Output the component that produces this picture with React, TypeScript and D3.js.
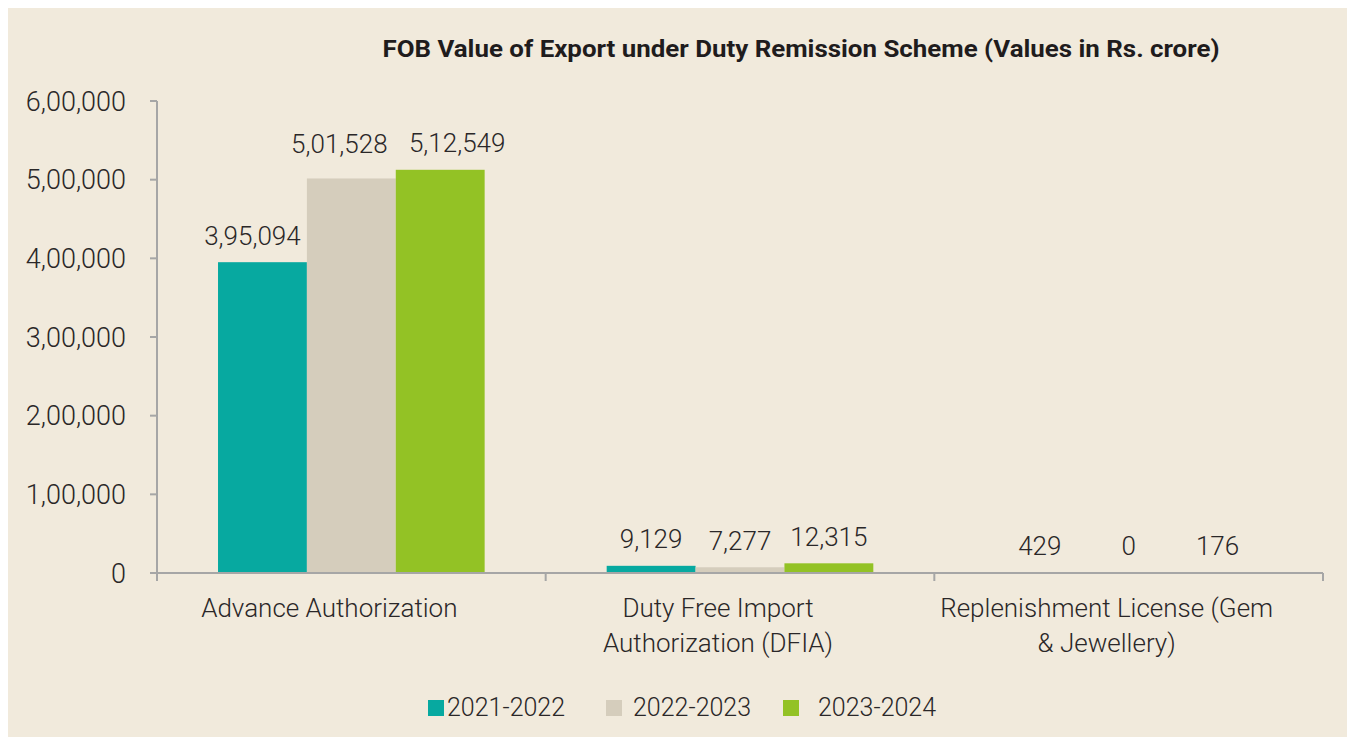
import React from 'react';
import * as d3 from 'd3';

const categories: string[][] = [
    ['Advance Authorization'],
    ['Duty Free Import', 'Authorization (DFIA)'],
    ['Replenishment License (Gem', '& Jewellery)'],
];
const seriesNames = ['2021-2022', '2022-2023', '2023-2024'];
const values2021 = [395094, 9129, 429];
const values2022 = [501528, 7277, 0];
const values2023 = [512549, 12315, 176];
const yTicks = [0, 100000, 200000, 300000, 400000, 500000, 600000];
const colors = ['#07a9a0', '#d5cdbc', '#93c225'];

const W = 1355;
const H = 745;
const margin = { left: 157, right: 32, top: 101, bottom: 172 };
const font = 'Roboto, sans-serif';
const textColor = '#2a2728';
const axisColor = '#a6a6a6';

// label nudges so the tall bars' labels don't collide (as in the source chart)
const nudge = (ci: number, si: number): [number, number] => {
    if (ci !== 0) return [0, 0];
    return ([[-10, 0], [-12, -8], [17, 0]] as [number, number][])[si];
};

const indianFormat = (v: number) => {
    const s = Math.round(v).toString();
    if (s.length <= 3) return s;
    const last3 = s.slice(-3);
    const rest = s.slice(0, -3).replace(/\B(?=(\d{2})+(?!\d))/g, ',');
    return `${rest},${last3}`;
};

const App: React.FC = () => {
    const series = [values2021, values2022, values2023];
    const x0 = d3.scaleBand<number>()
        .domain(categories.map((_, i) => i))
        .range([margin.left, W - margin.right])
        .paddingInner(0)
        .paddingOuter(0);
    const groupW = x0.bandwidth() * 0.686;
    const x1 = d3.scaleBand<number>()
        .domain(seriesNames.map((_, i) => i))
        .range([0, groupW]);
    const y = d3.scaleLinear()
        .domain([0, 600000])
        .range([H - margin.bottom, margin.top]);

    const baseY = y(0);
    const legendX = [428, 606, 783];
    const legendTextX = [447, 633, 818];

    return (
        <div style={{ margin: -8 }}>
            <svg width={W} height={H} style={{ display: 'block', fontFamily: font }}>
                <rect x={0} y={0} width={W} height={H} fill="#f7f2ea" />
                <rect x={6} y={3} width={W - 6} height={H - 3} fill="#f1eadc" />
                <text x={801} y={57} textAnchor="middle" fontSize={24} fontWeight={700} fill="#1f1c1d"
                    textLength={837} lengthAdjust="spacingAndGlyphs">
                    FOB Value of Export under Duty Remission Scheme (Values in Rs. crore)
                </text>

                {/* y axis */}
                <line x1={margin.left} x2={margin.left} y1={y(600000)} y2={baseY} stroke={axisColor} strokeWidth={2} />
                {yTicks.map(t => (
                    <g key={t}>
                        <line x1={margin.left - 7} x2={margin.left} y1={y(t)} y2={y(t)} stroke={axisColor} strokeWidth={2} />
                        <text x={126} y={y(t)} dy="0.36em" textAnchor="end" fontSize={27} fontWeight={300} fill={textColor}>
                            {indianFormat(t)}
                        </text>
                    </g>
                ))}

                {/* bars */}
                {categories.map((cat, ci) => {
                    const gx = (x0(ci) ?? 0) + (x0.bandwidth() - groupW) / 2;
                    return (
                        <g key={ci}>
                            {series.map((s, si) => {
                                const bx = gx + (x1(si) ?? 0);
                                const top = y(s[ci]);
                                const [ndx, ndy] = nudge(ci, si);
                                return (
                                    <g key={si}>
                                        <rect x={bx} y={top} width={x1.bandwidth()} height={baseY - top} fill={colors[si]} />
                                        <text x={bx + x1.bandwidth() / 2 + ndx} y={top - 27 + ndy} dy="0.36em" textAnchor="middle"
                                            fontSize={26} fontWeight={300} fill={textColor}>
                                            {indianFormat(s[ci])}
                                        </text>
                                    </g>
                                );
                            })}
                            {cat.map((line, li) => (
                                <text key={li} x={(x0(ci) ?? 0) + x0.bandwidth() / 2 - 22} y={608 + li * 35} dy="0.36em"
                                    textAnchor="middle" fontSize={26} fontWeight={300} fill={textColor}>
                                    {line}
                                </text>
                            ))}
                        </g>
                    );
                })}

                {/* x axis */}
                <line x1={margin.left} x2={W - margin.right} y1={baseY} y2={baseY} stroke={axisColor} strokeWidth={2} />
                {d3.range(categories.length + 1).map(i => {
                    const tx = i < categories.length ? (x0(i) ?? 0) : W - margin.right;
                    return <line key={i} x1={tx} x2={tx} y1={baseY} y2={baseY + 8} stroke={axisColor} strokeWidth={2} />;
                })}

                {/* legend */}
                {seriesNames.map((n, i) => (
                    <g key={n}>
                        <rect x={legendX[i]} y={700} width={16} height={16} fill={colors[i]} />
                        <text x={legendTextX[i]} y={707} dy="0.36em" fontSize={25} fontWeight={300} fill={textColor}>{n}</text>
                    </g>
                ))}
            </svg>
        </div>
    );
};

export default App;
